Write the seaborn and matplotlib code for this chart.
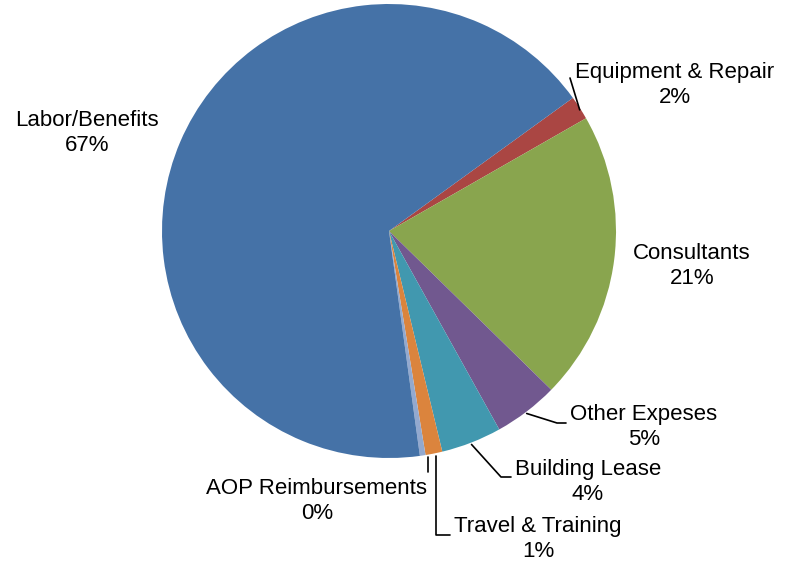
import numpy as np
import seaborn as sns
import matplotlib.pyplot as plt

# spending shares (%), clockwise from the top-right
categorias = ['Equipment & Repair', 'Consultants', 'Other Expeses', 'Building Lease',
              'Travel & Training', 'AOP Reimbursements', 'Labor/Benefits']
valores = [1.7, 20.6, 4.6, 4.3, 1.2, 0.4, 67.2]
colores = ['#AA4643', '#89A54E', '#71588F', '#4198AF', '#DB843D', '#93A9CF', '#4572A7']

sns.set_theme(style='white')
plt.rcParams['font.family'] = ['Liberation Sans', 'DejaVu Sans']

fig = plt.figure(figsize=(7.86, 5.65), dpi=100)
ax = fig.add_axes([0, 0, 1, 1])

cx, cy, r = 389, -231, 227
wedges, _ = ax.pie(valores, colors=colores, startangle=35.9, counterclock=False,
                   center=(cx, cy), radius=r, frame=True,
                   wedgeprops=dict(linewidth=0))
ax.set_xlim(0, 786)
ax.set_ylim(-565, 0)
ax.set_aspect('equal')
ax.axis('off')

# label centre and leader elbow points (pixel coords, y down)
etiquetas = {
    'Equipment & Repair': ((675, 85), [(570, 78)]),
    'Consultants': ((692, 266), None),
    'Other Expeses': ((644, 427), [(557, 423), (566, 423)]),
    'Building Lease': ((588, 482), [(501, 477), (511, 477)]),
    'Travel & Training': ((538, 539), [(436, 535), (450, 535)]),
    'AOP Reimbursements': ((317, 501), [(428, 472)]),
    'Labor/Benefits': ((87, 133), None),
}

for w, nombre, v in zip(wedges, categorias, valores):
    (tx, ty), codo = etiquetas[nombre]
    ax.text(tx, -ty, f'{nombre}\n{round(v):.0f}%', ha='center', va='center',
            fontsize=16, color='black', linespacing=1.25)
    if codo:
        ang = np.deg2rad((w.theta1 + w.theta2) / 2)
        x0, y0 = cx + r * np.cos(ang), cy + r * np.sin(ang)
        if nombre in ('Travel & Training', 'AOP Reimbursements'):
            x0 = codo[0][0]
        xs = [x0] + [p[0] for p in codo]
        ys = [y0 - 2] + [-p[1] for p in codo]
        ax.plot(xs, ys, color='black', lw=1.2)

fig.savefig('out.png', dpi=100)
